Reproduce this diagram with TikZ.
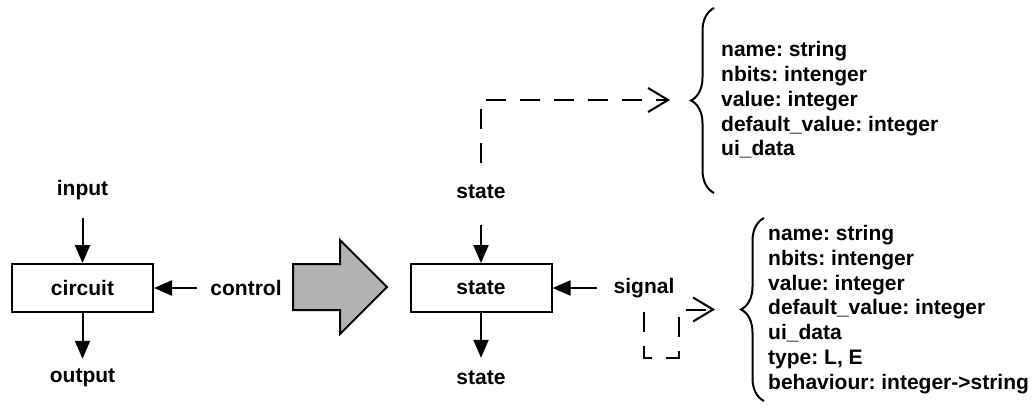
\documentclass[tikz,border=0pt]{standalone}
\usepackage{fontspec}
\setmainfont{Liberation Sans}
\frenchspacing
\usetikzlibrary{arrows.meta,decorations.pathreplacing}

\tikzset{
  lbl/.style={font=\fontsize{21pt}{24.8pt}\selectfont\bfseries, inner sep=0pt},
  blk/.style={lbl, draw, line width=2pt, minimum width=141pt, minimum height=48pt},
  arr/.style={line width=2pt, -{Triangle[length=18pt,width=15pt]}},
  dashlink/.style={line width=2pt, dash pattern=on 20pt off 14pt, -{Straight Barb[length=20pt,width=24pt]}},
  brc/.style={line width=2pt, decorate, decoration={brace, amplitude=23pt}},
  fields/.style={lbl, align=left, anchor=west},
}

\begin{document}
\begin{tikzpicture}[x=1pt,y=-1pt]
  \useasboundingbox (0,0) rectangle (1033,407);

  % plain circuit
  \node[lbl] (in) at (82.5,190) {input};
  \node[blk] (circ) at (82.5,288) {circuit};
  \node[lbl] (out) at (82.5,378) {output};
  \node[lbl] (ctrl) at (246,288) {control};
  \draw[arr, shorten <=18pt] (in) -- (circ);
  \draw[arr, shorten >=10pt] (circ) -- (out);
  \draw[arr, shorten <=13pt] (ctrl) -- (circ);

  % big grey arrow
  \draw[line width=2pt, fill=black!30] (293,264) -- (340,264) -- (340,240) -- (387,287)
    -- (340,334) -- (340,310) -- (293,310) -- cycle;

  % circuit as a state machine
  \node[lbl] (st1) at (481,192) {state};
  \node[blk] (stbox) at (481,288) {state};
  \node[lbl] (st2) at (481,378) {state};
  \node[lbl] (sig) at (644,288) {signal};
  \draw[arr, shorten <=26pt] (st1) -- (stbox);
  \draw[arr, shorten >=13pt] (stbox) -- (st2);
  \draw[arr, shorten <=16pt] (sig) -- (stbox);

  % fields of a state
  \coordinate (tip1) at (691,100);
  \draw[brc] (714,193) -- (714,8);
  \node[fields] (list1) at (721,100) {name: string\\nbits: intenger\\value: integer\\default\_value: integer\\ui\_data};
  \draw[dashlink, shorten <=22pt, shorten >=21pt] (st1) |- (tip1);

  % fields of a signal
  \coordinate (tip2) at (742,309.5);
  \coordinate (bend) at (679,358);
  \draw[brc] (764,401) -- (764,218);
  \node[fields] (list2) at (768,309.5) {name: string\\nbits: intenger\\value: integer\\default\_value: integer\\ui\_data\\type: L, E\\behaviour: integer->string};
  \draw[dashlink, shorten <=14pt, shorten >=27pt] (sig) |- (bend) |- (tip2);
\end{tikzpicture}
\end{document}
